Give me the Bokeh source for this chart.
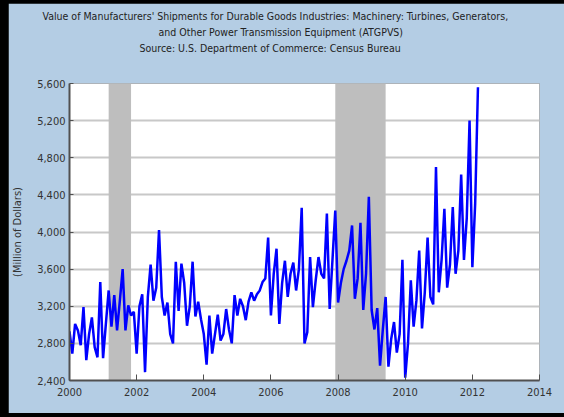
from bokeh.plotting import figure
from bokeh.models import (FixedTicker, NumeralTickFormatter, BoxAnnotation, Title, Range1d,
                          ColumnDataSource, GlobalInlineStyleSheet)
from bokeh.embed import file_html
from bokeh.resources import INLINE

# Monthly values, million of dollars, Jan 2000 .. Mar 2012
values_2000 = [2930, 2690, 3010, 2940, 2780, 3190, 2620, 2900, 3080, 2760, 2650, 3460]
values_2001 = [2640, 3010, 3370, 2980, 3320, 2940, 3260, 3600, 2940, 3210, 3100, 3140]
values_2002 = [2690, 3200, 3330, 2490, 3300, 3650, 3260, 3400, 4020, 3300, 3100, 3240]
values_2003 = [2900, 2800, 3680, 3150, 3660, 3450, 2990, 3200, 3680, 3090, 3250, 3060]
values_2004 = [2900, 2570, 3100, 2690, 2900, 3110, 2830, 2900, 3170, 2950, 2800, 3320]
values_2005 = [3100, 3280, 3200, 3050, 3250, 3350, 3260, 3330, 3370, 3460, 3500, 3940]
values_2006 = [3100, 3550, 3820, 3010, 3450, 3690, 3300, 3550, 3670, 3370, 3600, 4260]
values_2007 = [2800, 2920, 3730, 3190, 3480, 3730, 3550, 3500, 4200, 3170, 3700, 4230]
values_2008 = [3240, 3450, 3600, 3690, 3800, 4070, 3280, 3500, 4100, 3160, 3550, 4380]
values_2009 = [3160, 2950, 3180, 2560, 2950, 3300, 2550, 2850, 3030, 2700, 2900, 3700]
values_2010 = [2430, 2800, 3480, 2980, 3260, 3800, 2960, 3350, 3940, 3300, 3220, 4700]
values_2011 = [3350, 3700, 4250, 3400, 3650, 4270, 3550, 3800, 4620, 3700, 4150, 5200]
values_2012 = [3620, 4300, 5560]

start_year = 2000
recession_start = [(2001, 3), (2007, 12)]
recession_end = [(2001, 11), (2009, 6)]
y_ticks = [2400, 2800, 3200, 3600, 4000, 4400, 4800, 5200, 5600]
x_ticks = [2000, 2002, 2004, 2006, 2008, 2010, 2012, 2014]
title_lines = [
    "Value of Manufacturers' Shipments for Durable Goods Industries: Machinery: Turbines, Generators,",
    "and Other Power Transmission Equipment (ATGPVS)",
    "Source: U.S. Department of Commerce: Census Bureau",
]
title_offsets = [-27, 89, 70]   # horizontal placement of each title line, px from the frame's left edge
y_label = "(Million of Dollars)"

values = (values_2000 + values_2001 + values_2002 + values_2003 + values_2004 + values_2005 +
          values_2006 + values_2007 + values_2008 + values_2009 + values_2010 + values_2011 + values_2012)
dates = [start_year + i / 12.0 for i in range(len(values))]
src = ColumnDataSource(dict(x=dates, y=values))

FONT = "DejaVu Sans Condensed"
BG = "#b4cde4"

p = figure(width=556, height=410, output_backend="svg", toolbar_location=None,
           x_range=Range1d(x_ticks[0], x_ticks[-1]), y_range=Range1d(y_ticks[0], y_ticks[-1]),
           min_border_left=59, min_border_right=25, min_border_top=80, min_border_bottom=33)
p.styles = {"margin-left": "8px", "margin-top": "3px"}
p.stylesheets = [GlobalInlineStyleSheet(css="html, body { background-color: #000000; }")]
p.background_fill_color = "white"
p.border_fill_color = BG
p.outline_line_color = None

for (sy, sm), (ey, em) in zip(recession_start, recession_end):
    p.add_layout(BoxAnnotation(left=sy + (sm - 1) / 12.0, right=ey + (em - 1) / 12.0,
                               fill_color="#bebebe", fill_alpha=1.0, line_color=None, level="underlay"))

p.line("x", "y", source=src, line_color="#0000ff", line_width=2.5)

p.xgrid.grid_line_color = None
p.ygrid.grid_line_color = "#c8c8c8"
p.ygrid.grid_line_width = 2
p.ygrid.ticker = FixedTicker(ticks=y_ticks)

p.xaxis.ticker = FixedTicker(ticks=x_ticks)
p.yaxis.ticker = FixedTicker(ticks=y_ticks)
p.yaxis.formatter = NumeralTickFormatter(format="0,0")
p.xaxis.minor_tick_line_color = None
p.yaxis.minor_tick_line_color = None
p.xaxis.major_tick_in = 6
p.xaxis.major_tick_out = 0
p.yaxis.major_tick_in = 4
p.yaxis.major_tick_out = 0
for ax in (p.xaxis, p.yaxis):
    ax.axis_line_color = "#505050"
    ax.axis_line_width = 2
    ax.major_tick_line_color = "#505050"
    ax.major_tick_line_width = 1
    ax.major_label_text_font = FONT
    ax.major_label_text_font_size = "11px"
    ax.major_label_text_color = "#333333"
p.yaxis.major_label_standoff = 4
p.xaxis.major_label_standoff = 7
p.yaxis.axis_label = y_label
p.yaxis.axis_label_text_font = FONT
p.yaxis.axis_label_text_font_size = "11px"
p.yaxis.axis_label_text_font_style = "normal"
p.yaxis.axis_label_text_color = "#333333"
p.yaxis.axis_label_standoff = 10

# spacer title closest to the frame, then the three title lines outward
p.add_layout(Title(text=" ", text_font=FONT, text_font_size="10.5px", standoff=15), "above")
for line, off in reversed(list(zip(title_lines, title_offsets))):
    p.add_layout(Title(text=line, align="left", offset=off, standoff=2, text_font=FONT,
                       text_font_size="10.5px", text_font_style="normal", text_color="#222222"), "above")

open("out.html", "w").write(file_html(p, INLINE))
